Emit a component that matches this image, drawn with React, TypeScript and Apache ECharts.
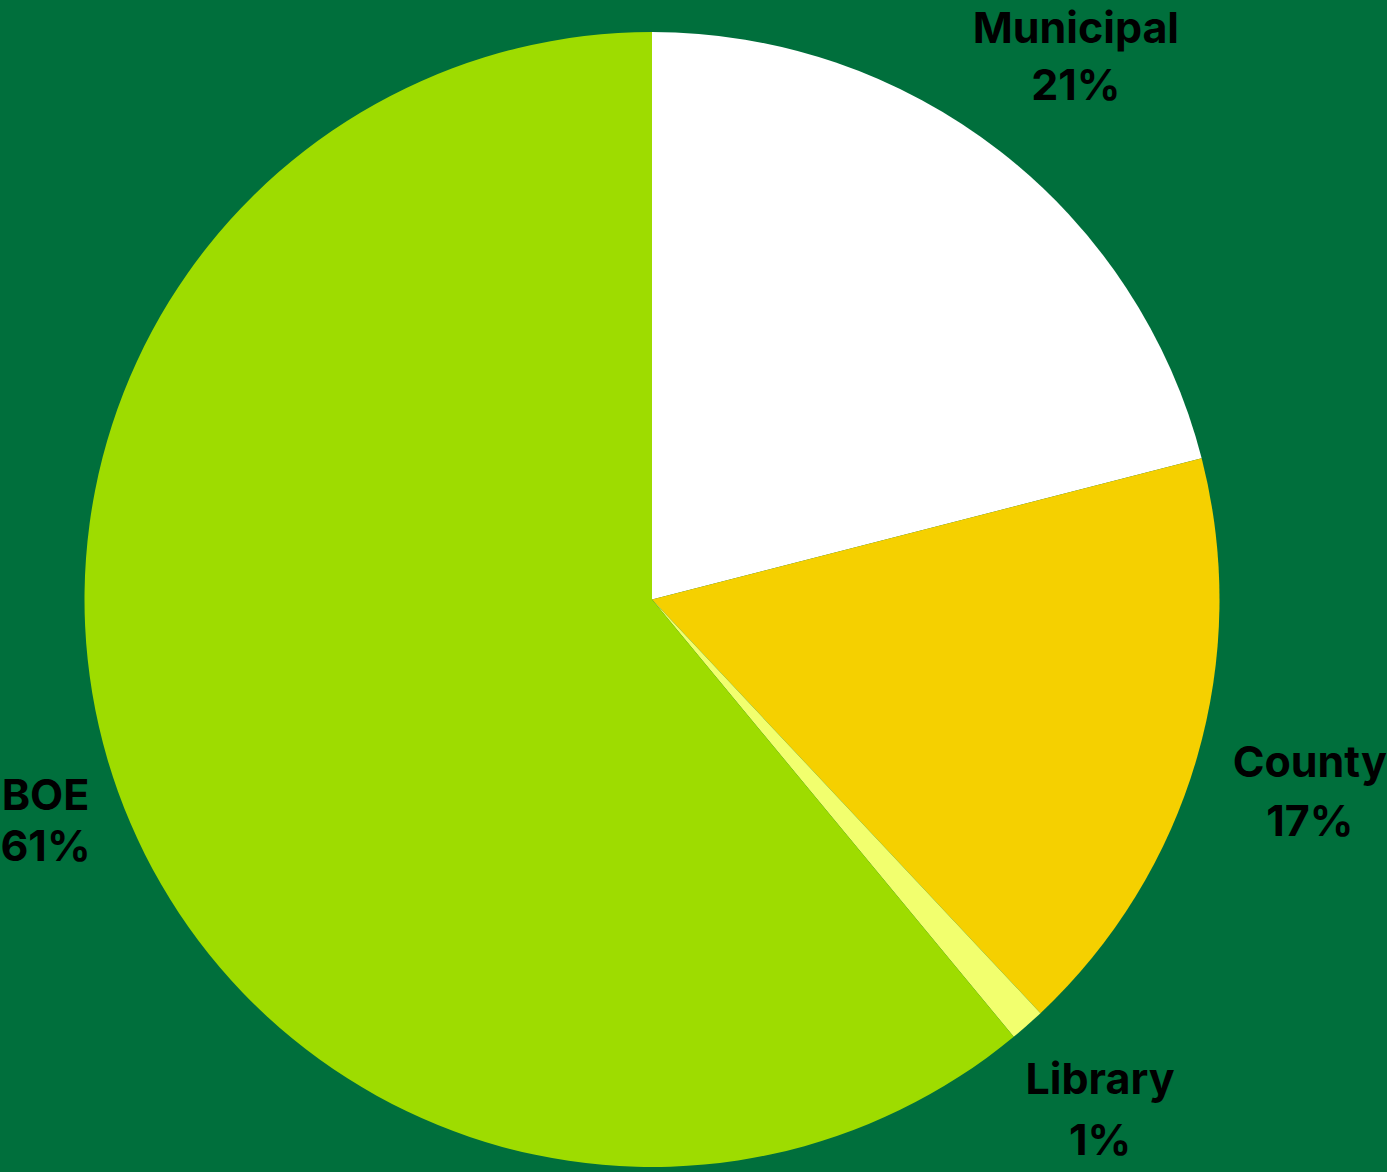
import React, { useEffect, useRef } from "react";
import * as echarts from "echarts";

const categories = ["Municipal", "County", "Library", "BOE"];
const values = [21, 17, 1, 61];
const colors = ["#ffffff", "#f5d000", "#f2ff6e", "#9edc00"];
const labelOffsets: [number, number][] = [
  [4, -3],
  [0, 0],
  [-5, -5],
  [38, -12],
];
const lineHeights = [57, 59, 61, 51];

export default function App() {
  const ref = useRef<HTMLDivElement>(null);
  useEffect(() => {
    if (!ref.current) return;
    const chart = echarts.init(ref.current, null, { renderer: "svg" });
    const center = [652, 599.5];
    chart.setOption({
      animation: false,
      backgroundColor: "#006f3c",
      series: [
        {
          type: "pie",
          center,
          radius: [0, 567.5],
          startAngle: 90,
          clockwise: true,
          silent: true,
          label: { show: false },
          labelLine: { show: false },
          itemStyle: { borderWidth: 0 },
          emphasis: { disabled: true },
          data: categories.map((name, i) => ({
            name,
            value: values[i],
            itemStyle: { color: colors[i] },
          })),
        },
        {
          type: "pie",
          center,
          radius: [640, 724],
          startAngle: 90,
          clockwise: true,
          silent: true,
          avoidLabelOverlap: false,
          labelLine: { show: false },
          itemStyle: { color: "rgba(0,0,0,0)", borderWidth: 0 },
          emphasis: { disabled: true },
          label: {
            show: true,
            position: "inside",
            color: "#000000",
            fontFamily: "Inter",
            fontWeight: "bold",
            fontSize: 43,
            lineHeight: 60,
            formatter: (p: any) => `${p.name}\n${Math.round(p.percent)}%`,
          },
          data: categories.map((name, i) => ({
            name,
            value: values[i],
            label: { offset: labelOffsets[i], lineHeight: lineHeights[i] },
          })),
        },
      ],
    });
    return () => chart.dispose();
  }, []);
  return (
    <div
      ref={ref}
      style={{ position: "fixed", left: 0, top: 0, width: 1387, height: 1172 }}
    />
  );
}
